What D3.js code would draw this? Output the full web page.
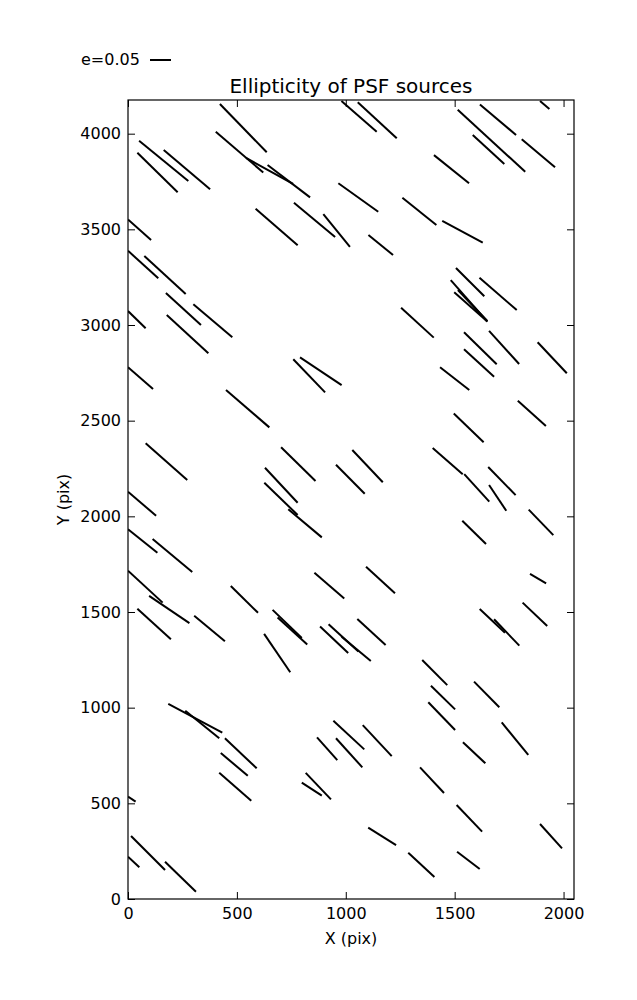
<!DOCTYPE html>
<html>
<head>
<meta charset="utf-8">
<script src="https://cdn.jsdelivr.net/npm/d3@7"></script>
<style>
  html, body { margin: 0; padding: 0; background: #fff; }
  svg { display: block; font-family: "DejaVu Sans", sans-serif; }
</style>
</head>
<body>
<svg id="chart" width="637" height="1000"></svg>
<script>
// ---- data (detector pixel coordinates of each whisker's two ends) ----
const whiskerX1 = [422,403,542,641,51,43,164,966,586,762,
  897,0,0,75,174,980,1055,1514,1616,1583,
  1808,1892,1405,1260,1443,1104,1506,1614,1482,1498,
  1515,300,0,178,1254,1543,1658,1543,1881,1433,
  0,759,790,450,1790,1496,81,703,1030,1399,
  1654,629,626,955,1544,1658,0,1840,1535,736,
  0,113,0,1093,1846,856,472,97,43,304,
  664,687,625,882,921,981,1053,1812,1615,1681,
  1351,1391,1589,185,263,445,426,419,868,943,
  955,1078,1379,1716,1538,1341,798,816,0,14,
  0,170,1509,1103,1287,1511,1892];
const whiskerY1 = [4155,4010,3873,3836,3963,3900,3915,3741,3608,3639,
  3580,3552,3388,3361,3167,4171,4164,4125,4153,3993,
  3971,4171,3888,3665,3544,3470,3298,3247,3235,3171,
  3183,3108,3073,3052,3090,2962,2969,2873,2910,2779,
  2779,2821,2831,2660,2604,2537,2382,2361,2347,2357,
  2258,2254,2176,2270,2221,2164,2129,2035,1977,2037,
  1932,1882,1716,1737,1699,1705,1636,1584,1517,1480,
  1511,1471,1386,1424,1436,1371,1463,1549,1516,1462,
  1249,1115,1136,1020,984,840,763,660,845,932,
  840,909,1028,923,819,688,608,659,535,329,
  221,195,491,373,242,247,392];
const whiskerX2 = [637,621,758,836,277,228,377,1149,779,951,
  1019,106,139,265,335,1142,1234,1824,1782,1728,
  1961,1935,1566,1416,1629,1217,1636,1785,1650,1650,
  1650,479,81,369,1404,1693,1796,1681,2015,1567,
  115,905,981,649,1919,1633,272,861,1170,1537,
  1780,779,779,1087,1659,1737,129,1953,1644,890,
  135,295,159,1226,1920,993,597,282,197,445,
  798,823,745,1011,1058,1115,1183,1925,1731,1797,
  1466,1502,1705,433,419,591,550,566,961,1085,
  1076,1211,1502,1838,1641,1451,890,932,35,170,
  52,312,1626,1231,1407,1615,1993];
const whiskerY2 = [3903,3797,3737,3667,3753,3694,3709,3592,3417,3460,
  3408,3444,3244,3162,3000,4010,3976,3801,3993,3841,
  3824,4129,3741,3523,3431,3366,3150,3078,3018,3018,
  3021,2936,2983,2852,2934,2795,2796,2730,2748,2660,
  2666,2648,2686,2465,2472,2387,2190,2185,2178,2220,
  2111,2071,2007,2118,2077,2029,2003,1902,1855,1890,
  1810,1709,1549,1598,1650,1570,1496,1442,1358,1347,
  1364,1330,1185,1286,1293,1244,1328,1427,1392,1324,
  1118,991,1002,869,840,683,644,514,726,782,
  688,747,883,753,709,554,540,521,509,152,
  166,38,352,282,115,157,265];

const xDomain = [0, 2048];
const yDomain = [0, 4176];
const xTicks = [0, 500, 1000, 1500, 2000];
const yTicks = [0, 500, 1000, 1500, 2000, 2500, 3000, 3500, 4000];
const legendE = 0.05;
const legendLabel = "e=0.05";
const titleText = "Ellipticity of PSF sources";
const xLabel = "X (pix)";
const yLabel = "Y (pix)";

// ---- layout ----
const L = 128, T = 100, R = 574, B = 899;
const pxPerE = 420; // whisker length in screen px per unit ellipticity
const svg = d3.select("#chart");

const x = d3.scaleLinear().domain(xDomain).range([L, R]);
const y = d3.scaleLinear().domain(yDomain).range([B, T]);

svg.append("defs").append("clipPath").attr("id", "clip")
  .append("rect").attr("x", L).attr("y", T).attr("width", R - L).attr("height", B - T);

const segs = whiskerX1.map((d, i) => ({x1: d, y1: whiskerY1[i], x2: whiskerX2[i], y2: whiskerY2[i]}));

svg.append("g").attr("clip-path", "url(#clip)")
  .selectAll("line").data(segs).join("line")
  .attr("x1", d => x(d.x1)).attr("y1", d => y(d.y1))
  .attr("x2", d => x(d.x2)).attr("y2", d => y(d.y2))
  .attr("stroke", "#000").attr("stroke-width", 2)
  .attr("stroke-linecap", "butt");

const tk = 7;
const fontSize = "16px";
function styleAxis(g) {
  g.select(".domain").remove();
  g.selectAll(".tick line").attr("stroke", "#000").attr("stroke-width", 1);
  g.selectAll(".tick text").attr("fill", "#000").style("font-size", fontSize)
    .style("font-family", "DejaVu Sans, sans-serif");
}
svg.append("g").attr("transform", `translate(0,${B})`)
  .call(d3.axisBottom(x).tickValues(xTicks).tickSize(-tk).tickPadding(9).tickFormat(d3.format("d")))
  .call(styleAxis);
svg.append("g").attr("transform", `translate(0,${T})`)
  .call(d3.axisTop(x).tickValues(xTicks).tickSize(-tk).tickFormat(""))
  .call(styleAxis);
svg.append("g").attr("transform", `translate(${L},0)`)
  .call(d3.axisLeft(y).tickValues(yTicks).tickSize(-tk).tickPadding(7).tickFormat(d3.format("d")))
  .call(styleAxis);
svg.append("g").attr("transform", `translate(${R},0)`)
  .call(d3.axisRight(y).tickValues(yTicks).tickSize(-tk).tickFormat(""))
  .call(styleAxis);

svg.append("rect").attr("x", L).attr("y", T).attr("width", R - L).attr("height", B - T)
  .attr("fill", "none").attr("stroke", "#000").attr("stroke-width", 1.2);

svg.append("text").attr("x", (L + R) / 2).attr("y", 93).attr("text-anchor", "middle")
  .style("font-size", "20px").text(titleText);
svg.append("text").attr("x", (L + R) / 2).attr("y", 944).attr("text-anchor", "middle")
  .style("font-size", fontSize).text(xLabel);
svg.append("text").attr("transform", `translate(69,${(T + B) / 2}) rotate(-90)`)
  .attr("text-anchor", "middle").style("font-size", fontSize).text(yLabel);

svg.append("text").attr("x", 81).attr("y", 65).style("font-size", fontSize).text(legendLabel);
svg.append("line").attr("x1", 150).attr("x2", 150 + legendE * pxPerE)
  .attr("y1", 60).attr("y2", 60).attr("stroke", "#000").attr("stroke-width", 2);
</script>
</body>
</html>
